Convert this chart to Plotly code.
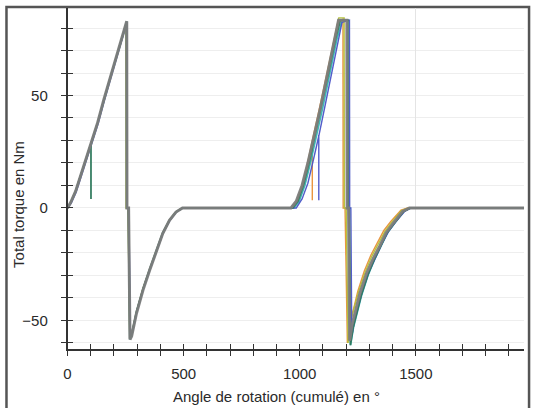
import plotly.graph_objs as go

# angle (deg, cumulated) / total torque (Nm) for each run
gray_x = [0, 14, 35, 57, 80, 102, 130, 156, 190, 225, 255, 256, 263, 269, 276, 297, 325, 354, 382, 410, 439, 467, 495,
          962, 985, 1010, 1035, 1060, 1090, 1120, 1150, 1167, 1203, 1204, 1210, 1215, 1225, 1259, 1288, 1316, 1344, 1372,
          1401, 1443, 1472, 1966]
gray_y = [0, 2.5, 7.5, 14.5, 21.5, 28.5, 38, 48, 60, 72, 83, 0, 0, -58.5, -57, -46.8, -36.5, -27.6, -19.5, -11.4, -5.5,
          -1.8, 0, 0, 3, 10, 20, 31, 45, 60, 75, 83.5, 83.5, 0, 0, -59, -52, -38, -29, -22.5, -17, -11, -7, -1.5, 0, 0]

green_x = [0, 14, 35, 57, 80, 101, 101, 101, 130, 156, 190, 225, 254, 255, 262, 268, 276, 297, 325, 354, 382, 410, 439,
           467, 495, 970, 992, 1016, 1040, 1064, 1094, 1124, 1154, 1175, 1207, 1208, 1213, 1218, 1230, 1264, 1292, 1320,
           1348, 1376, 1405, 1447, 1476, 1966]
green_y = [0, 2.5, 7.5, 14.5, 21.5, 28.5, 4, 28.5, 38, 48, 60, 72, 82.5, 0, 0, -58, -56.5, -46, -36, -27, -19, -11, -5.5,
           -1.8, 0, 0, 3, 10, 20, 31, 45, 60, 75, 83.5, 83.5, 0, 0, -61, -53, -39, -30, -23, -17, -11, -7, -1.5, 0, 0]

blue_x = [0, 16, 37, 59, 82, 104, 132, 158, 192, 227, 256, 257, 264, 271, 278, 299, 327, 356, 384, 412, 441, 469, 497,
          985, 1010, 1035, 1060, 1082, 1082, 1082, 1110, 1140, 1165, 1182, 1214, 1215, 1220, 1224, 1236, 1270, 1298, 1326,
          1354, 1382, 1411, 1452, 1480, 1966]
blue_y = [0, 2.2, 7, 14, 21, 28, 37.5, 47.5, 59.5, 71.5, 82.5, 0, 0, -57, -55.5, -45.5, -35.5, -27, -19, -11, -5.5,
          -1.8, 0, 0, 4, 11, 22, 32, 3.4, 32, 46, 61, 74, 82.5, 83.5, 0, 0, -57, -50, -37, -28.5, -22, -16, -10.5, -6.5,
          -1.5, 0, 0]

orange_x = [0, 14, 35, 57, 80, 102, 130, 156, 190, 225, 254, 255, 262, 269, 276, 297, 325, 354, 382, 410, 439, 467, 495,
            966, 988, 1012, 1036, 1054, 1054, 1054, 1080, 1110, 1140, 1165, 1186, 1187, 1195, 1205, 1220, 1250, 1278,
            1306, 1334, 1362, 1392, 1436, 1465, 1966]
orange_y = [0, 2.5, 7.5, 14.5, 21.5, 28.5, 38, 48, 60, 72, 82.5, 0, 0, -58, -56.5, -46.5, -36, -27.5, -19.5, -11.5,
            -5.5, -1.8, 0, 0, 3, 10, 21, 30, 3.4, 30, 42, 57, 71, 83, 84, 0, 0, -60, -50, -37, -28, -21, -15.5, -10, -6,
            -1, 0, 0]

yellow_x = [0, 14, 35, 57, 80, 102, 130, 156, 190, 225, 252, 252, 260, 268, 275, 296, 324, 353, 381, 409, 438, 466, 494,
            964, 987, 1011, 1035, 1058, 1088, 1118, 1148, 1168, 1191, 1192, 1200, 1208, 1222, 1254, 1282, 1310, 1338,
            1366, 1395, 1438, 1468, 1966]
yellow_y = [0, 2.5, 7.5, 14.5, 21.5, 28.5, 38, 48, 60, 72, 82, 0, 0, -58, -56.5, -46.5, -36, -27.5, -19.5, -11.5, -5.5,
            -1.8, 0, 0, 3, 10, 20, 30, 44, 59, 74, 84.5, 84.5, 0, 0, -60, -49, -37, -28.5, -21.5, -16, -10.5, -6.5, -1.2,
            0, 0]

teal_x = [0, 14, 35, 57, 80, 102, 130, 156, 190, 225, 255, 256, 263, 269, 276, 297, 325, 354, 382, 410, 439, 467, 495,
          975, 998, 1022, 1046, 1070, 1100, 1130, 1160, 1182, 1206, 1207, 1212, 1219, 1232, 1266, 1294, 1322, 1350, 1378,
          1407, 1449, 1478, 1966]
teal_y = [0, 2.5, 7.5, 14.5, 21.5, 28.5, 38, 48, 60, 72, 83, 0, 0, -58.5, -57, -46.8, -36.5, -27.6, -19.5, -11.4, -5.5,
          -1.8, 0, 0, 3, 10, 20, 31, 45, 60, 75, 83.5, 83.5, 0, 0, -61, -53, -39, -30, -23, -17, -11, -7, -1.5, 0, 0]

x_title = 'Angle de rotation (cumulé) en °'
y_title = 'Total torque en Nm'

W, H = 536, 408
FONT = 'Liberation Sans, Arial, sans-serif'


def px_x(p):
    return p / W


def px_y(p):
    return 1 - p / H


def build_figure():
    runs = [
        (orange_x, orange_y, '#e8913a', 1.4),
        (yellow_x, yellow_y, '#b4c23a', 1.4),
        (teal_x, teal_y, '#3cb4b4', 1.6),
        (blue_x, blue_y, '#4a56c8', 1.4),
        (green_x, green_y, '#2f7a5c', 1.8),
        (gray_x, gray_y, '#7d7d7d', 3.0),
    ]
    data = []
    for xs, ys, color, width in runs:
        data.append(go.Scatter(x=xs, y=ys, mode='lines', showlegend=False,
                               line=dict(color=color, width=width), opacity=0.95))

    x_dom = [px_x(64), px_x(524)]
    y_dom = [px_y(349), px_y(8)]
    x_range = [0, 1966]
    y_range = [-62.7, 88.9]
    tick_font = dict(family=FONT, size=15, color='#2a2a2a')

    layout = go.Layout(
        width=W, height=H,
        margin=dict(l=0, r=0, t=0, b=0),
        paper_bgcolor='white', plot_bgcolor='white',
        xaxis=dict(domain=x_dom, range=x_range, showline=True, linecolor='#333', linewidth=1.5,
                   ticks='outside', ticklen=5, tickcolor='#333', dtick=500, tick0=0,
                   minor=dict(dtick=100, ticks='outside', ticklen=5, tickcolor='#333', showgrid=False),
                   showgrid=False, zeroline=False, tickfont=tick_font, ticklabelstandoff=5),
        yaxis=dict(domain=y_dom, range=y_range, showline=True, linecolor='#333', linewidth=1.5,
                   ticks='outside', ticklen=5, tickcolor='#333', dtick=50, tick0=0,
                   minor=dict(dtick=10, ticks='outside', ticklen=5, tickcolor='#333',
                              showgrid=True, gridcolor='#eeeeee', gridwidth=1),
                   showgrid=True, gridcolor='#eeeeee', zeroline=False, tickfont=tick_font,
                   ticklabelstandoff=10),
        # second pair of axes gives the inside half of the crossing ticks
        xaxis2=dict(domain=x_dom, range=x_range, overlaying='x', anchor='y', side='bottom',
                    ticks='inside', ticklen=5, tickcolor='#333', dtick=500, tick0=0,
                    minor=dict(dtick=100, ticks='inside', ticklen=5, tickcolor='#333'),
                    showticklabels=False, showgrid=False, zeroline=False, showline=False),
        yaxis2=dict(domain=y_dom, range=y_range, overlaying='y', anchor='x', side='left',
                    ticks='inside', ticklen=5, tickcolor='#333', dtick=50, tick0=0,
                    minor=dict(dtick=10, ticks='inside', ticklen=5, tickcolor='#333'),
                    showticklabels=False, showgrid=False, zeroline=False, showline=False),
        # faint vertical grid line at 1500
        xaxis3=dict(domain=x_dom, range=x_range, overlaying='x', anchor='y', tickvals=[1500],
                    showticklabels=False, ticks='', showgrid=True, gridcolor='#e4e4e4',
                    zeroline=False, showline=False),
        shapes=[dict(type='rect', xref='paper', yref='paper',
                     x0=px_x(2.5), x1=px_x(529), y0=-0.2, y1=px_y(7),
                     line=dict(color='#555', width=2.5), layer='below')],
        annotations=[
            dict(text=x_title, xref='paper', yref='paper', x=px_x(275), y=px_y(396),
                 showarrow=False, font=dict(family=FONT, size=15, color='#2a2a2a'),
                 xanchor='center', yanchor='middle'),
            dict(text=y_title, xref='paper', yref='paper', x=px_x(14), y=px_y(204),
                 showarrow=False, textangle=-90, font=dict(family=FONT, size=15, color='#2a2a2a'),
                 xanchor='center', yanchor='middle'),
        ],
    )
    # empty traces so the overlay axes get drawn
    data.append(go.Scatter(x=[], y=[], xaxis='x2', yaxis='y2', showlegend=False))
    data.append(go.Scatter(x=[], y=[], xaxis='x3', yaxis='y', showlegend=False))
    return go.Figure(data=data, layout=layout)


if __name__ == '__main__':
    fig = build_figure()
    fig.write_html('out.html', config={'displayModeBar': False},
                   post_script="document.body.style.margin='0';")
